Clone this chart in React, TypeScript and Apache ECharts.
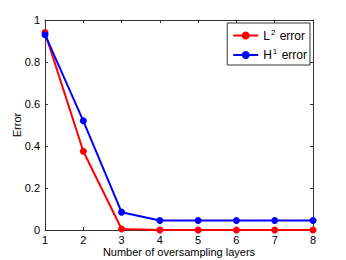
import React, { useEffect, useRef } from "react";
import * as echarts from "echarts";

const layers = [1, 2, 3, 4, 5, 6, 7, 8];
const l2Error = [0.94, 0.375, 0.005, 0.0, 0.0, 0.0, 0.0, 0.0];
const h1Error = [0.93, 0.52, 0.085, 0.045, 0.045, 0.045, 0.045, 0.045];
const yTicks = [0, 0.2, 0.4, 0.6, 0.8, 1];

export default function App() {
  const ref = useRef<HTMLDivElement>(null);
  useEffect(() => {
    if (!ref.current) return;
    const chart = echarts.init(ref.current, null, { renderer: "svg" });
    const font = "Liberation Sans, Arial, sans-serif";
    const axisCommon = {
      axisLine: { show: true, onZero: false, lineStyle: { color: "#333", width: 1 } },
      axisTick: { show: true, inside: true, length: 3, lineStyle: { color: "#333" } },
      splitLine: { show: false },
    };
    chart.setOption({
      animation: false,
      backgroundColor: "#fff",
      textStyle: { fontFamily: font },
      grid: { left: 45, right: 33, top: 20, bottom: 30, containLabel: false, outerBoundsMode: "none" },
      legend: {
        orient: "vertical",
        right: 36,
        top: 23,
        backgroundColor: "#fff",
        borderColor: "#333",
        borderWidth: 1,
        padding: [5, 3, 4, 5],
        itemGap: 6,
        itemWidth: 25,
        itemHeight: 10,
        textStyle: {
          fontFamily: font,
          fontSize: 12,
          color: "#000",
          rich: {
            b: { fontSize: 12, fontFamily: font, color: "#000" },
            sup: { fontSize: 8, fontFamily: font, color: "#000", verticalAlign: "top", padding: [0, 1, 7, 1] },
          },
        },
        formatter: (name: string) =>
          name === "L2" ? "{b|L}{sup|2}{b| error}" : "{b|H}{sup|1}{b| error}",
        data: ["L2", "H1"],
      },
      xAxis: [
        {
          type: "value",
          min: 1,
          max: 8,
          interval: 1,
          position: "bottom",
          ...axisCommon,
          axisLabel: { color: "#000", fontSize: 11, fontFamily: font, margin: 4 },
          name: "Number of oversampling layers",
          nameLocation: "middle",
          nameGap: 16,
          nameMoveOverlap: false,
          nameTextStyle: { color: "#000", fontSize: 11, fontFamily: font },
        },
        {
          type: "value",
          min: 1,
          max: 8,
          interval: 1,
          position: "top",
          ...axisCommon,
          axisLabel: { show: false },
        },
      ],
      yAxis: [
        {
          type: "value",
          min: 0,
          max: 1,
          interval: 0.2,
          position: "left",
          ...axisCommon,
          axisLabel: {
            color: "#000",
            fontSize: 11,
            fontFamily: font,
            margin: 5,
            formatter: (v: number) => {
              const t = yTicks.find((x) => Math.abs(x - v) < 1e-9);
              return t === undefined ? "" : String(t);
            },
          },
          name: "Error",
          nameLocation: "middle",
          nameGap: 23,
          nameMoveOverlap: false,
          nameTextStyle: { color: "#000", fontSize: 11, fontFamily: font },
        },
        {
          type: "value",
          min: 0,
          max: 1,
          interval: 0.2,
          position: "right",
          ...axisCommon,
          axisLabel: { show: false },
        },
      ],
      series: [
        {
          name: "L2",
          type: "line",
          data: layers.map((x, i) => [x, l2Error[i]]),
          color: "#ff0000",
          lineStyle: { color: "#ff0000", width: 2 },
          itemStyle: { color: "#ff0000" },
          symbol: "circle",
          symbolSize: 7,
          z: 2,
        },
        {
          name: "H1",
          type: "line",
          data: layers.map((x, i) => [x, h1Error[i]]),
          color: "#0000ff",
          lineStyle: { color: "#0000ff", width: 2 },
          itemStyle: { color: "#0000ff" },
          symbol: "circle",
          symbolSize: 7,
          z: 3,
        },
      ],
    });
    return () => chart.dispose();
  }, []);
  return <div ref={ref} style={{ width: 346, height: 260, position: "absolute", left: 0, top: 0 }} />;
}
